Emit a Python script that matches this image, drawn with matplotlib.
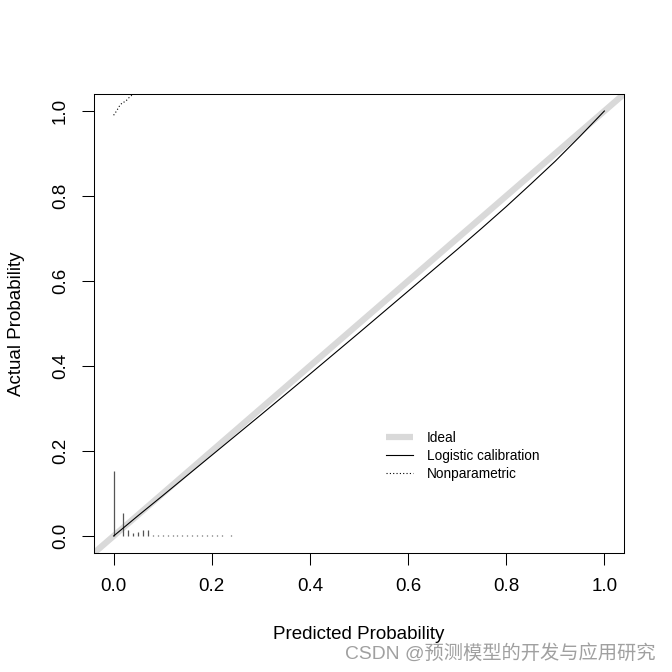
import matplotlib.pyplot as plt
import numpy as np

plt.rcParams['font.family'] = ['Liberation Sans', 'DejaVu Sans']

# logistic calibration curve
pred = [0.0, 0.05, 0.1, 0.2, 0.3, 0.4, 0.5, 0.6, 0.7, 0.75, 0.8, 0.85, 0.9, 0.95, 1.0]
actual = [0.0, 0.048, 0.095, 0.19, 0.285, 0.381, 0.478, 0.576, 0.674, 0.724, 0.775, 0.828, 0.882, 0.940, 1.0]

# nonparametric (loess) curve, only visible at top left
np_x = [0.0, 0.006, 0.012, 0.018, 0.024, 0.03, 0.036, 0.042]
np_y = [0.99, 1.0, 1.012, 1.02, 1.022, 1.03, 1.036, 1.044]

# histogram of predicted probabilities along the bottom
hist_x = [0.00, 0.02, 0.03, 0.04, 0.05, 0.06, 0.07, 0.08, 0.09, 0.10, 0.11, 0.12,
          0.13, 0.14, 0.15, 0.16, 0.17, 0.18, 0.19, 0.20, 0.21, 0.22, 0.24]
hist_h = [0.152, 0.055, 0.014, 0.006, 0.010, 0.015, 0.015, 0.003, 0.003, 0.003, 0.003, 0.003,
          0.003, 0.003, 0.003, 0.003, 0.003, 0.003, 0.003, 0.003, 0.003, 0.003, 0.003]

ticks = [0.0, 0.2, 0.4, 0.6, 0.8, 1.0]
tick_labels = ['0.0', '0.2', '0.4', '0.6', '0.8', '1.0']

fig = plt.figure(figsize=(6.72, 6.72), dpi=100)
ax = fig.add_axes([94 / 672, 1 - 553 / 672, 530 / 672, 459 / 672])

lims = [-0.04, 1.04]
ax.plot(lims, lims, color='#d9d9d9', lw=4.5, solid_capstyle='butt', label='Ideal', zorder=1)
ax.plot(pred, actual, color='black', lw=0.8, label='Logistic calibration', zorder=3)
ax.plot(np_x, np_y, color='black', lw=0.8, ls=(0, (1, 2)), label='Nonparametric', zorder=3)

for x, h in zip(hist_x, hist_h):
    ax.plot([x, x], [0, h], color='#555555', lw=0.9, solid_capstyle='butt', zorder=2)

ax.set_xlim(lims)
ax.set_ylim(lims)
ax.set_xticks(ticks)
ax.set_xticklabels(tick_labels)
ax.set_yticks(ticks)
ax.set_yticklabels(tick_labels, rotation=90, va='center')
ax.tick_params(axis='both', length=8.5, width=0.75, labelsize=13.5, pad=9.5)

for s in ax.spines.values():
    s.set_linewidth(0.75)

ax.set_xlabel('Predicted Probability', fontsize=13.5)
ax.set_ylabel('Actual Probability', fontsize=13.5)
ax.xaxis.set_label_coords(0.5, -0.16)
ax.yaxis.set_label_coords(-0.1308, 0.5)

leg = ax.legend(loc='center left', bbox_to_anchor=(0.551, 0.2113), frameon=False,
                fontsize=9.8, handlelength=2.0, handletextpad=1.0, labelspacing=0.3,
                borderpad=0, borderaxespad=0)

fig.text(0.975, 0.027, 'CSDN @预测模型的开发与应用研究', ha='right', va='center',
         fontsize=13.9, color='#a0a0a0',
         family=['Liberation Sans', 'Noto Sans CJK SC', 'DejaVu Sans'])

fig.savefig('out.png', dpi=100)
